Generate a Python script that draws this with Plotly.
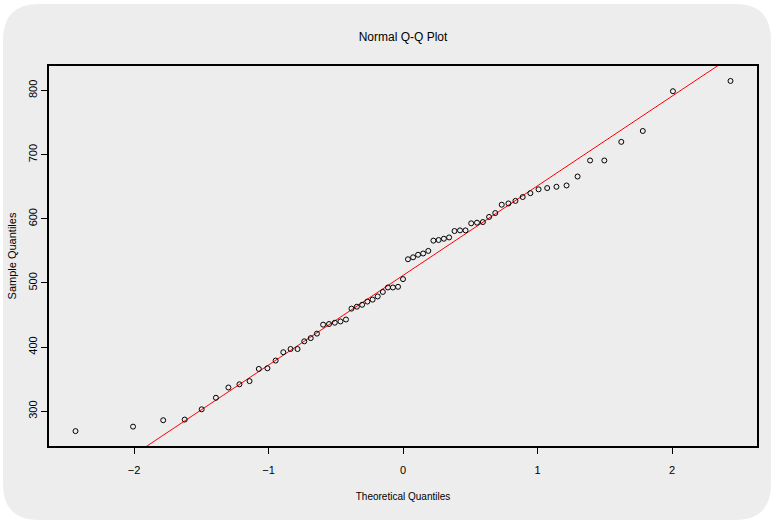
import numpy as np
import plotly.graph_objects as go

# Theoretical quantiles (x) and sample quantiles (y)
theoretical_q = [-2.435, -2.007, -1.783, -1.623, -1.497, -1.391, -1.298, -1.216, -1.141, -1.072,
                 -1.008, -0.947, -0.890, -0.836, -0.784, -0.734, -0.686, -0.640, -0.594, -0.550,
                 -0.507, -0.465, -0.424, -0.383, -0.343, -0.304, -0.265, -0.226, -0.188, -0.150,
                 -0.112, -0.075, -0.037, 0.0, 0.037, 0.075, 0.112, 0.150, 0.188, 0.226,
                 0.265, 0.304, 0.343, 0.383, 0.424, 0.465, 0.507, 0.550, 0.594, 0.640,
                 0.686, 0.734, 0.784, 0.836, 0.890, 0.947, 1.008, 1.072, 1.141, 1.216,
                 1.298, 1.391, 1.497, 1.623, 1.783, 2.007, 2.435]
sample_q = [269, 276, 286, 287, 303, 321, 337, 342, 347, 366,
            367, 379, 392, 397, 397, 409, 414, 421, 435, 436,
            438, 440, 443, 460, 463, 466, 471, 474, 479, 486,
            493, 493, 494, 506, 537, 540, 544, 546, 550, 566,
            567, 569, 571, 581, 582, 582, 593, 594, 595, 603,
            609, 622, 624, 628, 634, 640, 646, 648, 650, 652,
            666, 691, 691, 720, 737, 799, 815]
x_ticks = [-2, -1, 0, 1, 2]
y_ticks = [300, 400, 500, 600, 700, 800]
x_range = [-2.632, 2.632]
y_range = [245.8, 838.3]
norm_q75 = 0.6745

# qqline through the quartiles (as R's qqline)
q1, q3 = np.quantile(sample_q, [0.25, 0.75])
slope = (q3 - q1) / (2 * norm_q75)
intercept = (q1 + q3) / 2
line_x = [x_range[0] - 0.5, x_range[1] + 0.5]
line_y = [intercept + slope * v for v in line_x]

FONT = "Liberation Sans Narrow, Liberation Sans, Arial, sans-serif"
W, H = 773, 522
ML, MR, MT, MB = 49, 16, 66, 76
PW, PH = W - ML - MR, H - MT - MB
GRAY = "#ededed"

def px(x):
    return (x - ML) / PW

def py(y):
    return (H - MB - y) / PH

fig = go.Figure()
fig.add_trace(go.Scatter(x=line_x, y=line_y, mode="lines",
                         line=dict(color="#ff0000", width=1), hoverinfo="skip"))
fig.add_trace(go.Scatter(x=theoretical_q, y=sample_q, mode="markers",
                         marker=dict(symbol="circle-open", size=5, color="black",
                                     line=dict(width=1, color="black"))))

# rounded grey background panel
x0, y0, x1, y1, r = 3, 4, 771, 520, 36
path = (f"M {px(x0 + r)} {py(y0)} L {px(x1 - r)} {py(y0)} "
        f"Q {px(x1)} {py(y0)} {px(x1)} {py(y0 + r)} "
        f"L {px(x1)} {py(y1 - r)} Q {px(x1)} {py(y1)} {px(x1 - r)} {py(y1)} "
        f"L {px(x0 + r)} {py(y1)} Q {px(x0)} {py(y1)} {px(x0)} {py(y1 - r)} "
        f"L {px(x0)} {py(y0 + r)} Q {px(x0)} {py(y0)} {px(x0 + r)} {py(y0)} Z")
fig.add_shape(type="path", path=path, xref="paper", yref="paper",
              fillcolor=GRAY, line=dict(width=0), layer="below")

fig.update_layout(
    width=W, height=H,
    margin=dict(l=ML, r=MR, t=MT, b=MB, pad=0, autoexpand=False),
    paper_bgcolor="white", plot_bgcolor=GRAY,
    showlegend=False,
    font=dict(family=FONT, color="black", size=11),
    title=dict(text="Normal Q-Q Plot", xref="container", x=403 / W, xanchor="center",
               y=1 - 37 / H, yanchor="middle",
               font=dict(family=FONT, size=12, color="black")),
    xaxis=dict(range=x_range, tickmode="array", tickvals=x_ticks, automargin=False,
               ticks="outside", ticklen=6, tickwidth=1, tickcolor="black",
               showgrid=False, zeroline=False, showline=True, linecolor="black",
               linewidth=1.5, mirror=True, ticklabelstandoff=7,
               tickfont=dict(size=11),
               title=dict(text="Theoretical Quantiles", standoff=18,
                          font=dict(size=10))),
    yaxis=dict(range=y_range, tickmode="array", tickvals=y_ticks, tickangle=-90,
               automargin=False,
               ticks="outside", ticklen=6, tickwidth=1, tickcolor="black",
               showgrid=False, zeroline=False, showline=True, linecolor="black",
               linewidth=1.5, mirror=True, ticklabelstandoff=0,
               tickfont=dict(size=11),
               title=dict(text="Sample Quantiles", standoff=8,
                          font=dict(size=11))),
)

fig.write_html("out.html")
